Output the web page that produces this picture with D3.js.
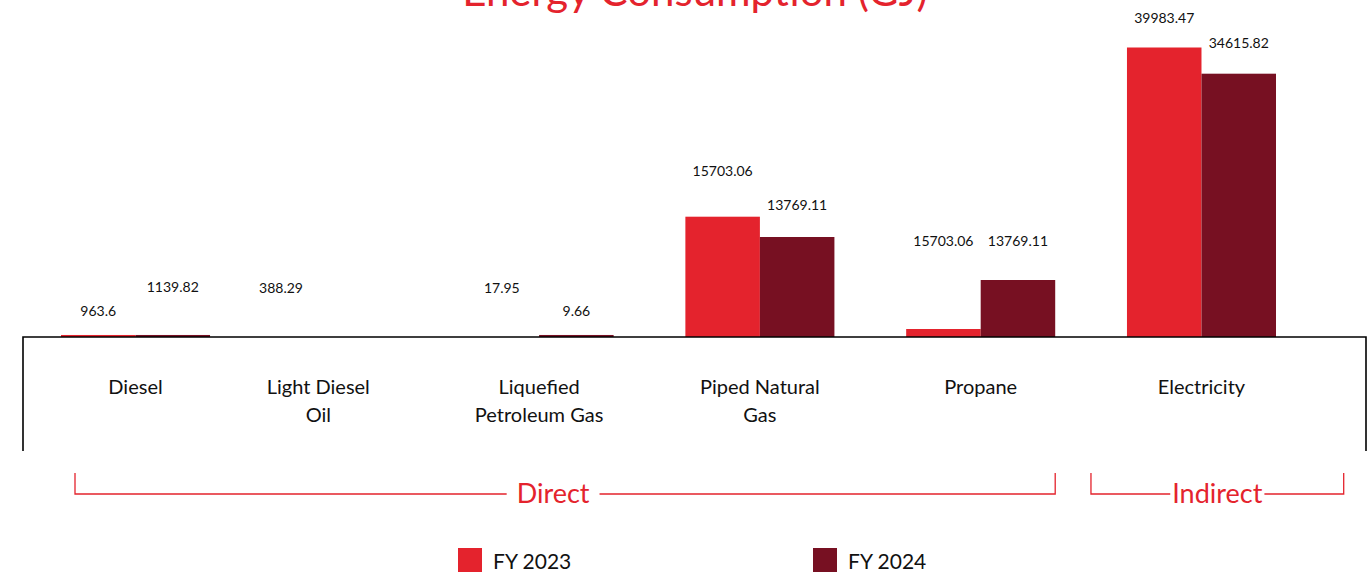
<!DOCTYPE html>
<html>
<head>
<meta charset="utf-8">
<script src="https://cdn.jsdelivr.net/npm/d3@7"></script>
<style>
  html, body { margin: 0; padding: 0; background: #fff; }
  svg { display: block; font-family: Lato, "Open Sans", sans-serif; }
</style>
</head>
<body>
<div id="chart"></div>
<script>
// data
const categories = ["Diesel", "Light Diesel Oil", "Liquefied Petroleum Gas", "Piped Natural Gas", "Propane", "Electricity"];
const series = ["FY 2023", "FY 2024"];
// bar values (GJ)
const fy2023 = [280, 0, 0, 16616, 1105, 39986];
const fy2024 = [280, 0, 280, 13812, 7873, 36368];
// value labels as printed on the chart
const fy2023Labels = ["963.6", "388.29", "17.95", "15703.06", "15703.06", "39983.47"];
const fy2024Labels = ["1139.82", null, "9.66", "13769.11", "13769.11", "34615.82"];
const groups = ["Direct", "Indirect"];
const groupSpan = [["Diesel", "Propane"], ["Electricity", "Electricity"]];

// layout
const width = 1371, height = 574;
const base = 337, boxBottom = 451, boxLeft = 23, boxRight = 1366;
const colors = ["#e4232d", "#771022"];
// the source squeezes the first group towards the second one
const catShift = [38, 0, 0, 0, 0, 0];
// label lift above bar top (px), the source staggers them by hand
const lift23 = [24, 50, 50, 46, 88, 30];
const lift24 = [48, 0, 24, 33, 39, 31];
// bracket ends relative to band edges, and text nudges
const bracketPad = [[-14, 0], [36, 67.7]];
const bracketDx = [-12, 0];
const bracketGap = [10, 2];

const svg = d3.select("#chart").append("svg")
    .attr("width", width)
    .attr("height", height);

const x0 = d3.scaleBand()
    .domain(categories)
    .range([boxLeft, 1276])
    .paddingInner(0.325)
    .paddingOuter(0);

const xc = c => x0(c) + catShift[categories.indexOf(c)];

const x1 = d3.scaleBand()
    .domain(series)
    .range([0, x0.bandwidth()]);

const y = d3.scaleLinear()
    .domain([0, 40000])
    .range([base, base - 289.6]);

const color = d3.scaleOrdinal().domain(series).range(colors);

// title (cut off by the top edge in the source)
svg.append("text")
    .attr("x", 695)
    .attr("y", 6)
    .attr("text-anchor", "middle")
    .attr("fill", "#e4232d")
    .style("font-size", "42px")
    .text("Energy Consumption (GJ)");

// bars
const rows = categories.map((c, i) => ({
    cat: c,
    vals: [
        { s: series[0], v: fy2023[i], label: fy2023Labels[i], lift: lift23[i] },
        { s: series[1], v: fy2024[i], label: fy2024Labels[i], lift: lift24[i] }
    ]
}));

const g = svg.selectAll("g.cat")
    .data(rows)
    .join("g")
    .attr("class", "cat")
    .attr("transform", d => `translate(${xc(d.cat)},0)`);

g.selectAll("rect")
    .data(d => d.vals)
    .join("rect")
    .attr("x", d => x1(d.s))
    .attr("y", d => y(d.v))
    .attr("width", x1.bandwidth())
    .attr("height", d => base - y(d.v))
    .attr("fill", d => color(d.s));

g.selectAll("text.val")
    .data(d => d.vals.filter(v => v.label))
    .join("text")
    .attr("class", "val")
    .attr("x", d => x1(d.s) + x1.bandwidth() / 2)
    .attr("y", d => y(d.v) - d.lift)
    .attr("text-anchor", "middle")
    .attr("dominant-baseline", "central")
    .attr("fill", "#111")
    .style("font-size", "14px")
    .text(d => d.label);

// open box under the baseline
svg.append("path")
    .attr("d", `M${boxLeft},${boxBottom}V${base}H${boxRight}V${boxBottom}`)
    .attr("fill", "none")
    .attr("stroke", "#000")
    .attr("stroke-width", 1.6);

// category names, wrapped onto two lines
const wrap = {
    "Light Diesel Oil": ["Light Diesel", "Oil"],
    "Liquefied Petroleum Gas": ["Liquefied", "Petroleum Gas"],
    "Piped Natural Gas": ["Piped Natural", "Gas"]
};
svg.selectAll("text.cat")
    .data(categories)
    .join("text")
    .attr("class", "cat")
    .attr("text-anchor", "middle")
    .attr("fill", "#111")
    .style("font-size", "20px")
    .each(function(d) {
        const lines = wrap[d] || [d];
        d3.select(this).selectAll("tspan")
            .data(lines)
            .join("tspan")
            .attr("x", xc(d) + x0.bandwidth() / 2)
            .attr("y", (l, i) => 394 + i * 28)
            .text(l => l);
    });

// Direct / Indirect brackets
const by = 494, btop = 473;
groups.forEach((name, i) => {
    const left = xc(groupSpan[i][0]) - bracketPad[i][0];
    const right = xc(groupSpan[i][1]) + x0.bandwidth() + bracketPad[i][1];
    const cx = (left + right) / 2 + bracketDx[i];
    const t = svg.append("text")
        .attr("x", cx)
        .attr("y", by + 9)
        .attr("text-anchor", "middle")
        .attr("fill", "#e4232d")
        .style("font-size", "27px")
        .text(name);
    const tw = t.node().getComputedTextLength();
    svg.append("path")
        .attr("d", `M${left},${btop}V${by}H${cx - tw / 2 - bracketGap[i]}M${cx + tw / 2 + bracketGap[i]},${by}H${right}V${btop}`)
        .attr("fill", "none")
        .attr("stroke", "#e4232d")
        .attr("stroke-width", 1.3);
});

// legend
const legend = svg.selectAll("g.legend")
    .data(series)
    .join("g")
    .attr("class", "legend")
    .attr("transform", (d, i) => `translate(${458 + i * 355},548)`);

legend.append("rect")
    .attr("width", 24)
    .attr("height", 24)
    .attr("fill", d => color(d));

legend.append("text")
    .attr("x", 35)
    .attr("y", 12)
    .attr("dominant-baseline", "central")
    .attr("fill", "#111")
    .style("font-size", "21px")
    .text(d => d);
</script>
</body>
</html>
